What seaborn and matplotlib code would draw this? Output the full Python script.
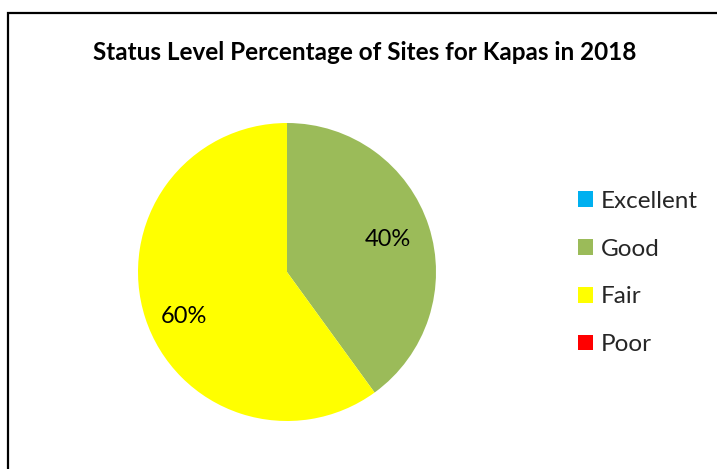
import matplotlib
matplotlib.use("Agg")
import matplotlib.pyplot as plt
import matplotlib.patches as mpatches
import seaborn as sns

# data
categories = ["Excellent", "Good", "Fair", "Poor"]
percentages = [0, 40, 60, 0]
colors = ["#00B0F0", "#9BBB59", "#FFFF00", "#FF0000"]
title = "Status Level Percentage of Sites for Kapas in 2018"

sns.set_theme(style="white")
plt.rcParams["font.family"] = ["Lato", "DejaVu Sans"]

W, H = 717, 469
fig = plt.figure(figsize=(W / 100, H / 100), dpi=100)
fig.patch.set_facecolor("white")

# pie axes: centre (287, 272) px, radius ~149 px
cx, cy, r = 287, 272, 149
ax = fig.add_axes([(cx - r) / W, (H - cy - r) / H, 2 * r / W, 2 * r / H])


def pct_label(p):
    return f"{p:.0f}%" if p > 0.5 else ""


wedges, texts, autotexts = ax.pie(
    percentages, colors=colors, startangle=90, counterclock=False,
    autopct=pct_label, pctdistance=0.71,
    wedgeprops=dict(linewidth=0),
    textprops=dict(fontsize=17, color="black"),
)
# Excel's "best fit" puts the big slice label a bit lower
autotexts[2].set_position((-0.69, -0.30))
ax.set_xlim(-1, 1)
ax.set_ylim(-1, 1)
ax.set_aspect("equal")

fig.text(365 / W, 1 - 52 / H, title, ha="center", va="center",
         fontsize=17.5, fontweight="bold", color="black")

handles = [mpatches.Patch(facecolor=c, edgecolor="none", label=l)
           for c, l in zip(colors, categories)]
fig.legend(handles=handles, loc="center left",
           bbox_to_anchor=(578 / W, 1 - 273 / H),
           frameon=False, fontsize=17.5,
           handlelength=0.62, handleheight=0.62, handletextpad=0.33,
           labelspacing=1.1, borderpad=0, borderaxespad=0)

# chart border (runs off right and bottom edges like the reference)
border = mpatches.Rectangle((8 / W, -0.1), 1.0, (1 - 13 / H) + 0.1,
                            transform=fig.transFigure, fill=False,
                            edgecolor="black", linewidth=1.6, clip_on=False)
fig.patches.append(border)

plt.savefig("out.png", dpi=100)
plt.close()
